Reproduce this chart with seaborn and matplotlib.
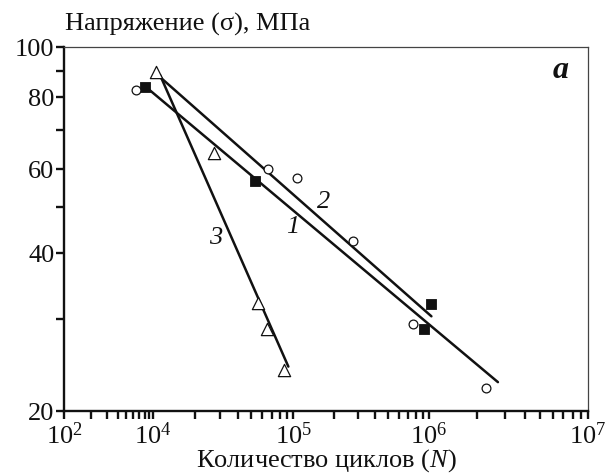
import numpy as np
import pandas as pd
import matplotlib
matplotlib.use('Agg')
import matplotlib.pyplot as plt
import matplotlib.ticker as mticker
import seaborn as sns

# ---------------- data ----------------
# series 1: filled squares
s1_N = [6.6e3, 5.3e4, 1.04e6, 9.2e5]
s1_sigma = [83.6, 56.6, 32.0, 28.7]
# series 2: open circles
s2_N = [4.15e3, 6.6e4, 1.07e5, 2.74e5, 7.6e5, 2.28e6]
s2_sigma = [82.5, 60.0, 57.4, 42.4, 29.3, 22.1]
# series 3: open triangles
s3_N = [1.05e4, 2.73e4, 5.6e4, 6.5e4, 8.5e4]
s3_sigma = [89.4, 63.9, 32.1, 28.7, 23.9]

# fatigue lines (end points)
line1_N = [7.3e3, 2.72e6]
line1_sigma = [83.3, 22.7]
line2_N = [1.10e4, 1.04e6]
line2_sigma = [87.8, 30.3]
line3_N = [1.12e4, 9.2e4]
line3_sigma = [88.2, 24.3]

line_labels = ['1', '2', '3']
label_N = [9.8e4, 1.67e5, 2.77e4]
label_sigma = [45.4, 51.2, 43.0]

x_major = [1e2, 1e4, 1e5, 1e6, 1e7]
x_major_labels = [r'$10^{2}$', r'$10^{4}$', r'$10^{5}$', r'$10^{6}$', r'$10^{7}$']
y_major = [20, 40, 60, 80, 100]
y_minor = [30, 50, 70, 90]

title_text = 'Напряжение (σ), МПа'
xlabel_text = 'Количество циклов ($\\mathit{N}$)'
panel_text = 'a'

# ---------------- axis scales (the reference axes are piecewise log) --------
def piecewise_log(U, P):
    s_lo = (P[1] - P[0]) / (U[1] - U[0])
    s_hi = (P[-1] - P[-2]) / (U[-1] - U[-2])
    Ue = np.array([-300.0] + list(U) + [300.0])
    Pe = np.array([P[0] - s_lo * (U[0] + 300.0)] + list(P) + [P[-1] + s_hi * (300.0 - U[-1])])

    def fwd(x):
        x = np.asarray(x, dtype=float)
        with np.errstate(divide='ignore', invalid='ignore'):
            u = np.log10(np.clip(x, 1e-300, None))
        return np.interp(u, Ue, Pe)

    def inv(p):
        p = np.asarray(p, dtype=float)
        u = np.interp(p, Pe, Ue)
        return np.power(10.0, u)
    return fwd, inv

x_fwd, x_inv = piecewise_log([2, 4, 5, 6, 7], [0, 89, 229, 364, 523])
y_fwd, y_inv = piecewise_log(list(np.log10(y_major)), [0, 158, 242, 314, 364])

# ---------------- style ----------------
sns.set_style('ticks')
plt.rcParams['font.family'] = ['Liberation Serif', 'DejaVu Serif']
plt.rcParams['mathtext.fontset'] = 'custom'
plt.rcParams['mathtext.rm'] = 'Liberation Serif'
plt.rcParams['mathtext.it'] = 'Liberation Serif:italic'
plt.rcParams['mathtext.bf'] = 'Liberation Serif:bold'

FS = 19
W, H = 610, 474
fig = plt.figure(figsize=(W / 100, H / 100), dpi=100)
ax = fig.add_axes([64 / W, 1 - 411 / H, 524 / W, 364 / H])
ax.set_xscale('function', functions=(x_fwd, x_inv))
ax.set_yscale('function', functions=(y_fwd, y_inv))

lw = 1.8
for lx, ly in [(line1_N, line1_sigma), (line2_N, line2_sigma), (line3_N, line3_sigma)]:
    sns.lineplot(x=lx, y=ly, ax=ax, color='#111111', linewidth=lw, sort=False)

sns.scatterplot(x=s1_N, y=s1_sigma, ax=ax, marker='s', s=50, color='#111111',
                edgecolor='#111111', linewidth=0.6, zorder=5)
sns.scatterplot(x=s2_N, y=s2_sigma, ax=ax, marker='o', s=40, facecolor='white',
                edgecolor='#111111', linewidth=0.9, zorder=5)
sns.scatterplot(x=s3_N, y=s3_sigma, ax=ax, marker='^', s=78, facecolor='white',
                edgecolor='#111111', linewidth=0.9, zorder=5)

for t, xn, ys in zip(line_labels, label_N, label_sigma):
    ax.text(xn, ys, t, fontsize=FS, style='italic', ha='center', va='center', color='#111111')

ax.text(0.947, 0.935, panel_text, transform=ax.transAxes, fontsize=23,
        style='italic', weight='bold', ha='center', va='center', color='#111111')

ax.set_xlim(1e2, 1e7)
ax.set_ylim(20, 100)

ax.xaxis.set_major_locator(mticker.FixedLocator(x_major))
ax.xaxis.set_major_formatter(mticker.FixedFormatter(x_major_labels))
x_minor = [100 * k ** 2 for k in range(2, 10)] + [k * 10 ** d for d in (4, 5, 6) for k in range(2, 10)]
ax.xaxis.set_minor_locator(mticker.FixedLocator(x_minor))
ax.xaxis.set_minor_formatter(mticker.NullFormatter())

ax.yaxis.set_major_locator(mticker.FixedLocator(y_major))
ax.yaxis.set_major_formatter(mticker.FixedFormatter([str(v) for v in y_major]))
ax.yaxis.set_minor_locator(mticker.FixedLocator(y_minor))
ax.yaxis.set_minor_formatter(mticker.NullFormatter())

ax.tick_params(axis='both', which='both', direction='out', length=6, width=1.7,
               color='#111111', labelsize=FS, labelcolor='#111111', pad=1)
ax.tick_params(axis='x', which='major', pad=2)

for side in ('left', 'bottom'):
    ax.spines[side].set_linewidth(1.7)
    ax.spines[side].set_color('#111111')
for side in ('top', 'right'):
    ax.spines[side].set_visible(True)
    ax.spines[side].set_linewidth(0.9)
    ax.spines[side].set_color('#444444')

ax.set_xlabel(xlabel_text, fontsize=FS, color='#111111', labelpad=-1)
ax.set_ylabel('')
fig.text(65 / W, 1 - 31 / H, title_text, fontsize=FS, color='#111111', ha='left', va='baseline')

fig.savefig('out.png', dpi=100)
